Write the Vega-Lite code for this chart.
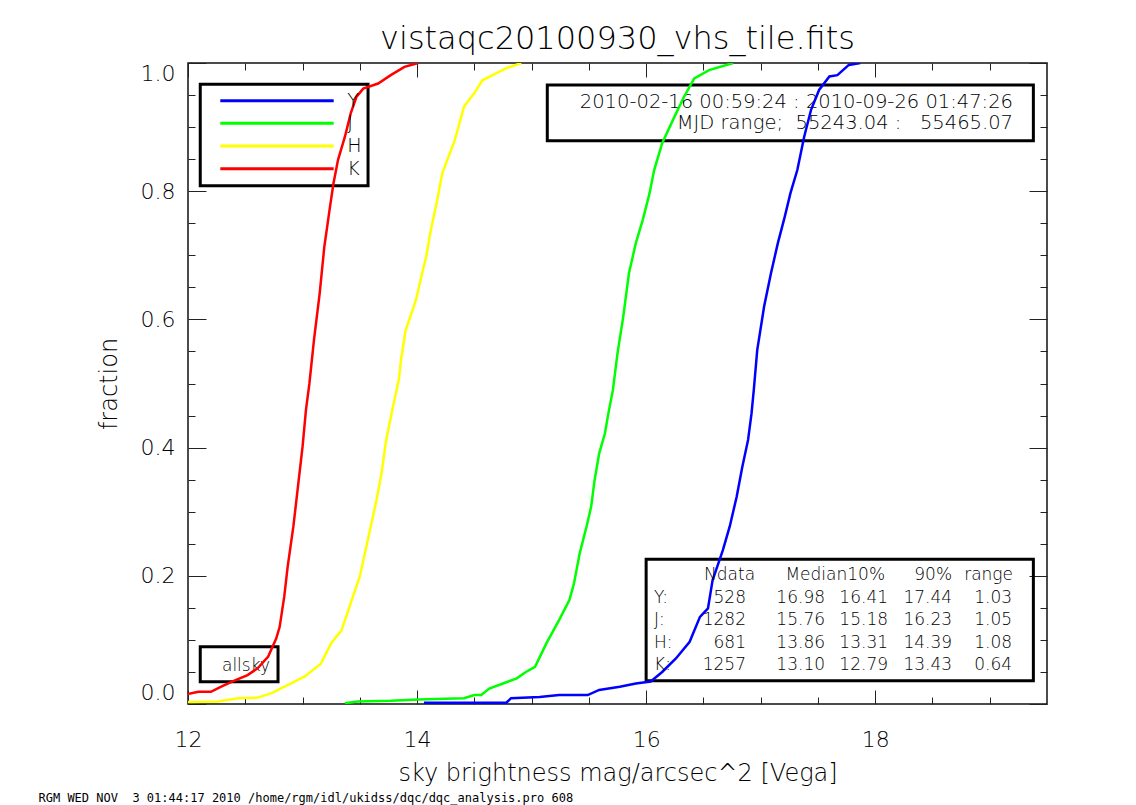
{
  "$schema": "https://vega.github.io/schema/vega-lite/v6.json",
  "width": 859,
  "height": 641,
  "autosize": {"type": "none"},
  "padding": {"left": 188, "top": 63, "right": 89, "bottom": 101},
  "background": "white",
  "title": {"text": "vistaqc20100930_vhs_tile.fits", "fontSize": 32, "offset": 6, "anchor": "middle", "fontWeight": 200},
  "datasets": {
    "curves": [
      {"band": "Y", "mag": 14.06, "frac": 0.002}, {"band": "Y", "mag": 14.78, "frac": 0.002}, {"band": "Y", "mag": 14.82, "frac": 0.009}, {"band": "Y", "mag": 15.07, "frac": 0.011}, {"band": "Y", "mag": 15.24, "frac": 0.014}, {"band": "Y", "mag": 15.49, "frac": 0.014}, {"band": "Y", "mag": 15.59, "frac": 0.022}, {"band": "Y", "mag": 15.77, "frac": 0.027}, {"band": "Y", "mag": 15.91, "frac": 0.032}, {"band": "Y", "mag": 16.04, "frac": 0.035}, {"band": "Y", "mag": 16.14, "frac": 0.05}, {"band": "Y", "mag": 16.26, "frac": 0.071}, {"band": "Y", "mag": 16.38, "frac": 0.097}, {"band": "Y", "mag": 16.47, "frac": 0.136}, {"band": "Y", "mag": 16.54, "frac": 0.149}, {"band": "Y", "mag": 16.58, "frac": 0.193}, {"band": "Y", "mag": 16.67, "frac": 0.24}, {"band": "Y", "mag": 16.73, "frac": 0.277}, {"band": "Y", "mag": 16.79, "frac": 0.323}, {"band": "Y", "mag": 16.84, "frac": 0.37}, {"band": "Y", "mag": 16.89, "frac": 0.412}, {"band": "Y", "mag": 16.92, "frac": 0.453}, {"band": "Y", "mag": 16.94, "frac": 0.49}, {"band": "Y", "mag": 16.97, "frac": 0.552}, {"band": "Y", "mag": 17.03, "frac": 0.62}, {"band": "Y", "mag": 17.09, "frac": 0.672}, {"band": "Y", "mag": 17.15, "frac": 0.719}, {"band": "Y", "mag": 17.21, "frac": 0.76}, {"band": "Y", "mag": 17.26, "frac": 0.797}, {"band": "Y", "mag": 17.32, "frac": 0.833}, {"band": "Y", "mag": 17.38, "frac": 0.885}, {"band": "Y", "mag": 17.44, "frac": 0.927}, {"band": "Y", "mag": 17.51, "frac": 0.958}, {"band": "Y", "mag": 17.6, "frac": 0.979}, {"band": "Y", "mag": 17.67, "frac": 0.981}, {"band": "Y", "mag": 17.77, "frac": 0.997}, {"band": "Y", "mag": 17.87, "frac": 1.0},
      {"band": "J", "mag": 13.37, "frac": 0.001}, {"band": "J", "mag": 13.48, "frac": 0.004}, {"band": "J", "mag": 13.77, "frac": 0.005}, {"band": "J", "mag": 14.01, "frac": 0.007}, {"band": "J", "mag": 14.41, "frac": 0.009}, {"band": "J", "mag": 14.5, "frac": 0.014}, {"band": "J", "mag": 14.56, "frac": 0.014}, {"band": "J", "mag": 14.63, "frac": 0.024}, {"band": "J", "mag": 14.75, "frac": 0.032}, {"band": "J", "mag": 14.87, "frac": 0.04}, {"band": "J", "mag": 14.95, "frac": 0.05}, {"band": "J", "mag": 15.03, "frac": 0.058}, {"band": "J", "mag": 15.13, "frac": 0.095}, {"band": "J", "mag": 15.24, "frac": 0.131}, {"band": "J", "mag": 15.33, "frac": 0.162}, {"band": "J", "mag": 15.37, "frac": 0.188}, {"band": "J", "mag": 15.42, "frac": 0.235}, {"band": "J", "mag": 15.48, "frac": 0.277}, {"band": "J", "mag": 15.52, "frac": 0.308}, {"band": "J", "mag": 15.55, "frac": 0.349}, {"band": "J", "mag": 15.59, "frac": 0.391}, {"band": "J", "mag": 15.64, "frac": 0.422}, {"band": "J", "mag": 15.67, "frac": 0.453}, {"band": "J", "mag": 15.71, "frac": 0.49}, {"band": "J", "mag": 15.75, "frac": 0.547}, {"band": "J", "mag": 15.8, "frac": 0.604}, {"band": "J", "mag": 15.85, "frac": 0.672}, {"band": "J", "mag": 15.91, "frac": 0.719}, {"band": "J", "mag": 15.97, "frac": 0.755}, {"band": "J", "mag": 16.03, "frac": 0.797}, {"band": "J", "mag": 16.07, "frac": 0.833}, {"band": "J", "mag": 16.14, "frac": 0.875}, {"band": "J", "mag": 16.26, "frac": 0.921}, {"band": "J", "mag": 16.33, "frac": 0.947}, {"band": "J", "mag": 16.42, "frac": 0.976}, {"band": "J", "mag": 16.55, "frac": 0.989}, {"band": "J", "mag": 16.76, "frac": 1.0},
      {"band": "H", "mag": 11.9, "frac": 0.003}, {"band": "H", "mag": 12.26, "frac": 0.004}, {"band": "H", "mag": 12.44, "frac": 0.009}, {"band": "H", "mag": 12.61, "frac": 0.01}, {"band": "H", "mag": 12.73, "frac": 0.017}, {"band": "H", "mag": 12.9, "frac": 0.032}, {"band": "H", "mag": 13.02, "frac": 0.043}, {"band": "H", "mag": 13.16, "frac": 0.063}, {"band": "H", "mag": 13.25, "frac": 0.095}, {"band": "H", "mag": 13.34, "frac": 0.115}, {"band": "H", "mag": 13.42, "frac": 0.157}, {"band": "H", "mag": 13.5, "frac": 0.199}, {"band": "H", "mag": 13.57, "frac": 0.256}, {"band": "H", "mag": 13.64, "frac": 0.313}, {"band": "H", "mag": 13.69, "frac": 0.36}, {"band": "H", "mag": 13.73, "frac": 0.412}, {"band": "H", "mag": 13.79, "frac": 0.464}, {"band": "H", "mag": 13.84, "frac": 0.505}, {"band": "H", "mag": 13.86, "frac": 0.537}, {"band": "H", "mag": 13.9, "frac": 0.583}, {"band": "H", "mag": 13.99, "frac": 0.63}, {"band": "H", "mag": 14.03, "frac": 0.661}, {"band": "H", "mag": 14.08, "frac": 0.698}, {"band": "H", "mag": 14.12, "frac": 0.739}, {"band": "H", "mag": 14.17, "frac": 0.781}, {"band": "H", "mag": 14.22, "frac": 0.828}, {"band": "H", "mag": 14.33, "frac": 0.88}, {"band": "H", "mag": 14.41, "frac": 0.932}, {"band": "H", "mag": 14.5, "frac": 0.953}, {"band": "H", "mag": 14.57, "frac": 0.973}, {"band": "H", "mag": 14.66, "frac": 0.981}, {"band": "H", "mag": 14.78, "frac": 0.992}, {"band": "H", "mag": 14.91, "frac": 1.0},
      {"band": "K", "mag": 11.9, "frac": 0.012}, {"band": "K", "mag": 12.09, "frac": 0.019}, {"band": "K", "mag": 12.2, "frac": 0.019}, {"band": "K", "mag": 12.29, "frac": 0.027}, {"band": "K", "mag": 12.41, "frac": 0.037}, {"band": "K", "mag": 12.52, "frac": 0.045}, {"band": "K", "mag": 12.61, "frac": 0.056}, {"band": "K", "mag": 12.7, "frac": 0.074}, {"band": "K", "mag": 12.77, "frac": 0.102}, {"band": "K", "mag": 12.8, "frac": 0.12}, {"band": "K", "mag": 12.84, "frac": 0.167}, {"band": "K", "mag": 12.87, "frac": 0.214}, {"band": "K", "mag": 12.92, "frac": 0.277}, {"band": "K", "mag": 12.96, "frac": 0.339}, {"band": "K", "mag": 13.0, "frac": 0.401}, {"band": "K", "mag": 13.03, "frac": 0.459}, {"band": "K", "mag": 13.06, "frac": 0.5}, {"band": "K", "mag": 13.1, "frac": 0.568}, {"band": "K", "mag": 13.15, "frac": 0.641}, {"band": "K", "mag": 13.19, "frac": 0.713}, {"band": "K", "mag": 13.24, "frac": 0.776}, {"band": "K", "mag": 13.27, "frac": 0.812}, {"band": "K", "mag": 13.31, "frac": 0.849}, {"band": "K", "mag": 13.37, "frac": 0.885}, {"band": "K", "mag": 13.42, "frac": 0.921}, {"band": "K", "mag": 13.47, "frac": 0.947}, {"band": "K", "mag": 13.53, "frac": 0.96}, {"band": "K", "mag": 13.66, "frac": 0.968}, {"band": "K", "mag": 13.77, "frac": 0.981}, {"band": "K", "mag": 13.89, "frac": 0.994}, {"band": "K", "mag": 14.01, "frac": 1.0}
    ],
    "stats": [
      {"band": "Y", "label": "Y:", "ndata": 528, "median": 16.98, "p10": 16.41, "p90": 17.44, "range": 1.03},
      {"band": "J", "label": "J:", "ndata": 1282, "median": 15.76, "p10": 15.18, "p90": 16.23, "range": 1.05},
      {"band": "H", "label": "H:", "ndata": 681, "median": 13.86, "p10": 13.31, "p90": 14.39, "range": 1.08},
      {"band": "K", "label": "K:", "ndata": 1257, "median": 13.1, "p10": 12.79, "p90": 13.43, "range": 0.64}
    ]
  },
  "layer": [
    {
      "layer": [
        {
          "data": {"values": [{}]},
          "mark": {"type": "rect", "fill": "transparent", "stroke": "#000", "strokeWidth": 3},
          "encoding": {
            "x": {"datum": 12.107, "type": "quantitative", "axis": {"orient": "bottom", "values": [12, 14, 16, 18], "labels": false, "tickSize": -14, "title": "RGM WED NOV\u00a0\u00a03 01:44:17 2010 /home/rgm/idl/ukidss/dqc/dqc_analysis.pro 608", "titleFont": "DejaVu Sans Mono", "titleFontSize": 12, "titleFontWeight": "normal", "titleAnchor": "start", "titleAlign": "left", "titleBaseline": "alphabetic", "titleX": -150, "titleY": 97}},
            "x2": {"datum": 12.786},
            "y": {"datum": 0.0894, "type": "quantitative", "axis": {"orient": "left", "values": [0, 0.2, 0.4, 0.6, 0.8, 1], "labels": false, "tickSize": -18, "title": null}},
            "y2": {"datum": 0.0348}
          }
        },
        {
          "data": {"values": [{}]},
          "mark": {"type": "rect", "fill": "transparent", "stroke": "#000", "strokeWidth": 3},
          "encoding": {
            "x": {"datum": 12.107, "type": "quantitative", "axis": {"orient": "bottom", "values": [12.5, 13, 13.5, 14.5, 15, 15.5, 16.5, 17, 17.5, 18.5, 19], "labels": false, "tickSize": -7, "title": null}},
            "x2": {"datum": 13.572},
            "y": {"datum": 0.9668, "type": "quantitative", "axis": {"orient": "left", "values": [0.05, 0.1, 0.15, 0.25, 0.3, 0.35, 0.45, 0.5, 0.55, 0.65, 0.7, 0.75, 0.85, 0.9, 0.95], "labels": false, "tickSize": -7, "title": null}},
            "y2": {"datum": 0.8086}
          }
        },
        {
          "data": {"values": [{}]},
          "mark": {"type": "rect", "fill": "transparent", "stroke": "#000", "strokeWidth": 3},
          "encoding": {
            "x": {"datum": 15.137, "type": "quantitative", "axis": {"orient": "top", "values": [12, 14, 16, 18], "labels": false, "tickSize": -14, "title": null}},
            "x2": {"datum": 19.381},
            "y": {"datum": 0.9657, "type": "quantitative", "axis": {"orient": "right", "values": [0, 0.2, 0.4, 0.6, 0.8, 1], "labels": false, "tickSize": -18, "title": null}},
            "y2": {"datum": 0.8788}
          }
        },
        {
          "data": {"values": [{}]},
          "mark": {"type": "rect", "fill": "transparent", "stroke": "#000", "strokeWidth": 3},
          "encoding": {
            "x": {"datum": 16.0, "type": "quantitative", "axis": {"orient": "top", "values": [12.5, 13, 13.5, 14.5, 15, 15.5, 16.5, 17, 17.5, 18.5, 19], "labels": false, "tickSize": -7, "title": null}},
            "x2": {"datum": 19.381},
            "y": {"datum": 0.2257, "type": "quantitative", "axis": {"orient": "right", "values": [0.05, 0.1, 0.15, 0.25, 0.3, 0.35, 0.45, 0.5, 0.55, 0.65, 0.7, 0.75, 0.85, 0.9, 0.95], "labels": false, "tickSize": -7, "title": null}},
            "y2": {"datum": 0.0363}
          }
        },
        {
          "data": {"values": [{}]},
          "mark": {"type": "text", "align": "right", "baseline": "middle", "fontSize": 19.5},
          "encoding": {
            "x": {"datum": 19.203, "type": "quantitative", "axis": null},
            "y": {"datum": 0.9387, "type": "quantitative", "axis": null},
            "text": {"value": "2010-02-16 00:59:24 : 2010-09-26 01:47:26"}
          }
        },
        {
          "data": {"values": [{}]},
          "mark": {"type": "text", "align": "right", "baseline": "middle", "fontSize": 19.5},
          "encoding": {
            "x": {"datum": 19.203, "type": "quantitative", "axis": null},
            "y": {"datum": 0.9059, "type": "quantitative", "axis": null},
            "text": {"value": "MJD range;\u00a0\u00a055243.04 :\u00a0\u00a0\u00a055465.07"}
          }
        },
        {
          "data": {"values": [{}]},
          "mark": {"type": "text", "align": "right", "baseline": "middle", "fontSize": 17},
          "encoding": {
            "x": {"datum": 12.716, "type": "quantitative", "axis": null},
            "y": {"datum": 0.0593, "type": "quantitative", "axis": null},
            "text": {"value": "allsky"}
          }
        },
        {
          "data": {"name": "curves"},
          "mark": {"type": "line", "strokeWidth": 2.5, "clip": true},
          "encoding": {
            "x": {"field": "mag", "type": "quantitative", "scale": {"domain": [12, 19.5], "nice": false, "zero": false}, "axis": {"orient": "bottom", "values": [12, 14, 16, 18], "format": "d", "ticks": false, "labelFontSize": 22, "labelPadding": 25, "labelFlush": false, "title": "sky brightness mag/arcsec^2 [Vega]", "titleFontSize": 24, "titlePadding": 11}},
            "y": {"field": "frac", "type": "quantitative", "scale": {"domain": [0, 1], "nice": false, "zero": false}, "axis": {"orient": "left", "values": [0, 0.2, 0.4, 0.6, 0.8, 1], "format": ".1f", "ticks": false, "labelFontSize": 22, "labelPadding": 13, "labelFlush": true, "title": "fraction", "titleFontSize": 24, "titlePadding": 19}},
            "color": {"field": "band", "type": "nominal", "scale": {"domain": ["Y", "J", "H", "K"], "range": ["#0000ff", "#00ff00", "#ffff00", "#ff0000"]}, "legend": null}
          }
        }
      ],
      "resolve": {"axis": {"x": "independent", "y": "independent"}}
    },
    {
      "data": {"name": "stats"},
      "layer": [
        {
          "mark": {"type": "rule", "strokeWidth": 3},
          "encoding": {
            "x": {"datum": 12.282, "type": "quantitative", "axis": null},
            "x2": {"datum": 13.272},
            "y": {"field": "band", "type": "ordinal", "scale": {"type": "point", "domain": ["Y", "J", "H", "K"], "range": [37.7, 105.7], "padding": 0}, "axis": null},
            "color": {"field": "band", "type": "nominal", "legend": null}
          }
        },
        {
          "mark": {"type": "text", "align": "left", "baseline": "middle", "fontSize": 19},
          "encoding": {
            "x": {"datum": 13.391, "type": "quantitative", "axis": null},
            "y": {"field": "band", "type": "ordinal", "scale": {"type": "point", "domain": ["Y", "J", "H", "K"], "range": [37.7, 105.7], "padding": 0}, "axis": null},
            "text": {"field": "band"}
          }
        }
      ]
    },
    {
      "data": {"name": "stats"},
      "encoding": {
        "y": {"field": "band", "type": "ordinal", "scale": {"type": "point", "domain": ["hdr", "Y", "J", "H", "K"], "range": [512, 602], "padding": 0}, "axis": null}
      },
      "layer": [
        {"mark": {"type": "text", "align": "left", "fontSize": 17}, "encoding": {"x": {"datum": 16.069, "type": "quantitative", "axis": null}, "text": {"field": "label"}}},
        {"mark": {"type": "text", "align": "right", "fontSize": 17}, "encoding": {"x": {"datum": 16.872, "type": "quantitative", "axis": null}, "text": {"field": "ndata", "format": "d"}}},
        {"mark": {"type": "text", "align": "right", "fontSize": 17}, "encoding": {"x": {"datum": 17.562, "type": "quantitative", "axis": null}, "text": {"field": "median", "format": ".2f"}}},
        {"mark": {"type": "text", "align": "right", "fontSize": 17}, "encoding": {"x": {"datum": 18.112, "type": "quantitative", "axis": null}, "text": {"field": "p10", "format": ".2f"}}},
        {"mark": {"type": "text", "align": "right", "fontSize": 17}, "encoding": {"x": {"datum": 18.671, "type": "quantitative", "axis": null}, "text": {"field": "p90", "format": ".2f"}}},
        {"mark": {"type": "text", "align": "right", "fontSize": 17}, "encoding": {"x": {"datum": 19.195, "type": "quantitative", "axis": null}, "text": {"field": "range", "format": ".2f"}}},
        {"data": {"values": [{"band": "hdr"}]}, "mark": {"type": "text", "align": "right", "fontSize": 17}, "encoding": {"x": {"datum": 16.951, "type": "quantitative", "axis": null}, "text": {"value": "Ndata"}}},
        {"data": {"values": [{"band": "hdr"}]}, "mark": {"type": "text", "align": "right", "fontSize": 17}, "encoding": {"x": {"datum": 18.086, "type": "quantitative", "axis": null}, "text": {"value": "Median10%"}}},
        {"data": {"values": [{"band": "hdr"}]}, "mark": {"type": "text", "align": "right", "fontSize": 17}, "encoding": {"x": {"datum": 18.671, "type": "quantitative", "axis": null}, "text": {"value": "90%"}}},
        {"data": {"values": [{"band": "hdr"}]}, "mark": {"type": "text", "align": "right", "fontSize": 17}, "encoding": {"x": {"datum": 19.203, "type": "quantitative", "axis": null}, "text": {"value": "range"}}}
      ]
    }
  ],
  "resolve": {"scale": {"y": "independent"}, "axis": {"x": "independent", "y": "independent"}},
  "config": {
    "view": {"stroke": "#111", "strokeWidth": 1.5},
    "font": "DejaVu Sans",
    "axis": {"grid": false, "domain": false, "labelFont": "DejaVu Sans", "titleFont": "DejaVu Sans", "labelColor": "#000", "titleColor": "#000", "tickColor": "#222", "tickWidth": 1, "labelFontWeight": 200, "titleFontWeight": 200},
    "text": {"font": "DejaVu Sans", "color": "#000", "baseline": "middle", "fontWeight": 200},
    "title": {"font": "DejaVu Sans", "fontWeight": 200, "color": "#000"}
  }
}
